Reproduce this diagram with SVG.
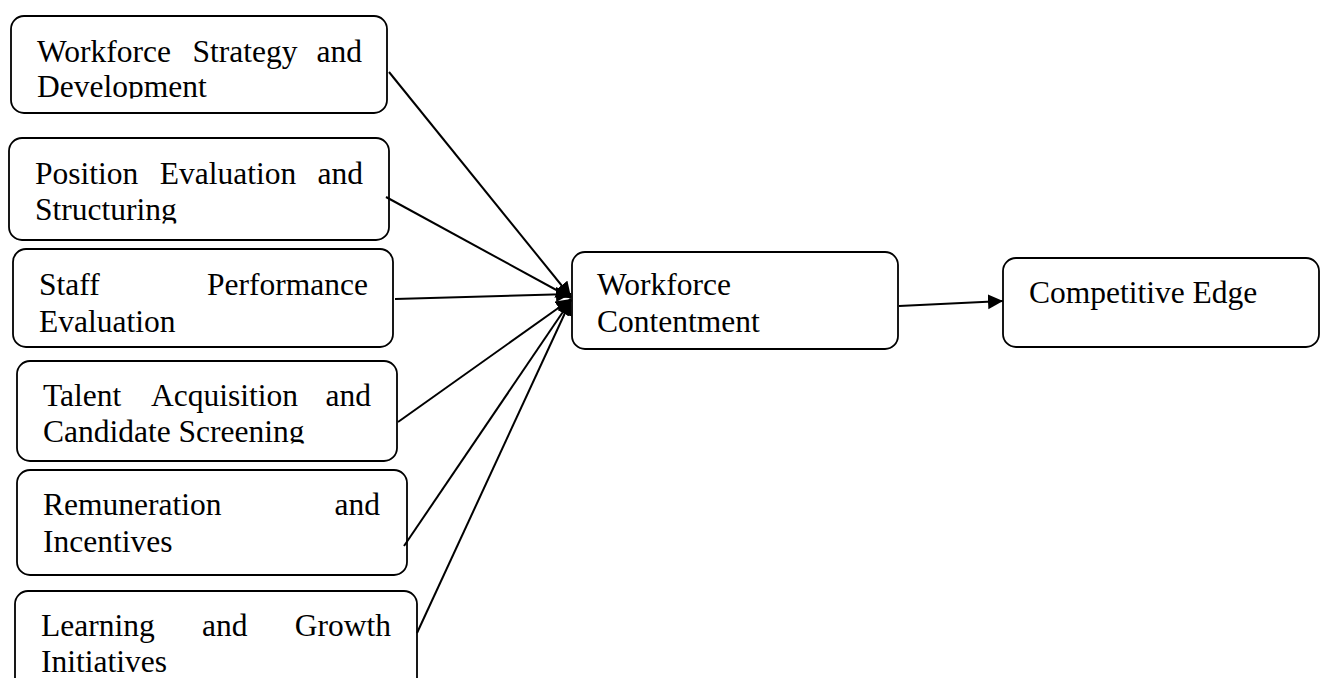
<svg xmlns="http://www.w3.org/2000/svg" width="1325" height="678" viewBox="0 0 1325 678">
<style>
.box{fill:#fff;stroke:#000;stroke-width:1.8}
.t{font-family:"Liberation Serif","Times New Roman",serif;font-size:31.5px;fill:#000}
.m{text-anchor:middle}
.e{text-anchor:end}
.c{fill:none;stroke:#000;stroke-width:2}
</style>
<defs>
<marker id="ah" markerUnits="userSpaceOnUse" markerWidth="18" markerHeight="16" refX="15" refY="7.5" orient="auto">
<path d="M0,0 L15,7.5 L0,15 z" fill="#000"/>
</marker>
<clipPath id="c1"><rect x="0" y="0" width="420" height="98.5"/></clipPath>
<clipPath id="c2"><rect x="0" y="120" width="420" height="103.5"/></clipPath>
<clipPath id="c4"><rect x="0" y="350" width="420" height="93.5"/></clipPath>
</defs>
<g id="n1">
<rect class="box" x="11" y="16" width="376" height="97" rx="13"/>
<g clip-path="url(#c1)">
<text class="t" x="37" y="62">Workforce</text>
<text class="t m" x="245" y="62">Strategy</text>
<text class="t e" x="362" y="62">and</text>
<text class="t" x="37" y="97">Development</text>
</g>
</g>
<g id="n2">
<rect class="box" x="9" y="138" width="380" height="102" rx="13"/>
<g clip-path="url(#c2)">
<text class="t" x="35" y="184">Position</text>
<text class="t m" x="228" y="184">Evaluation</text>
<text class="t e" x="363" y="184">and</text>
<text class="t" x="35" y="220">Structuring</text>
</g>
</g>
<g id="n3">
<rect class="box" x="13" y="249" width="380" height="98" rx="13"/>
<text class="t" x="39" y="295">Staff</text>
<text class="t e" x="368" y="295">Performance</text>
<text class="t" x="39" y="332">Evaluation</text>
</g>
<g id="n4">
<rect class="box" x="17" y="361" width="380" height="100" rx="13"/>
<g clip-path="url(#c4)">
<text class="t" x="43" y="406">Talent</text>
<text class="t m" x="224.5" y="406">Acquisition</text>
<text class="t e" x="371" y="406">and</text>
<text class="t" x="43" y="442">Candidate Screening</text>
</g>
</g>
<g id="n5">
<rect class="box" x="17" y="470" width="390" height="105" rx="13"/>
<text class="t" x="43" y="515">Remuneration</text>
<text class="t e" x="380" y="515">and</text>
<text class="t" x="43" y="552">Incentives</text>
</g>
<g id="n6">
<rect class="box" x="15" y="591" width="402" height="120" rx="13"/>
<text class="t" x="41" y="636">Learning</text>
<text class="t m" x="224.7" y="636">and</text>
<text class="t e" x="391" y="636">Growth</text>
<text class="t" x="41" y="672">Initiatives</text>
</g>
<g id="n7">
<rect class="box" x="572" y="252" width="326" height="97" rx="13"/>
<text class="t" x="597" y="295">Workforce</text>
<text class="t" x="597" y="332">Contentment</text>
</g>
<g id="n8">
<rect class="box" x="1003" y="258" width="316" height="89" rx="13"/>
<text class="t" x="1029" y="303">Competitive Edge</text>
</g>
<g id="connectors">
<line class="c" x1="389" y1="72" x2="571" y2="297" marker-end="url(#ah)"/>
<line class="c" x1="386" y1="197" x2="571" y2="298" marker-end="url(#ah)"/>
<line class="c" x1="395" y1="299" x2="571" y2="294" marker-end="url(#ah)"/>
<line class="c" x1="398" y1="422" x2="571" y2="299" marker-end="url(#ah)"/>
<line class="c" x1="404" y1="546" x2="571" y2="300" marker-end="url(#ah)"/>
<line class="c" x1="417" y1="633" x2="571" y2="300" marker-end="url(#ah)"/>
<line class="c" x1="899" y1="306" x2="1003" y2="301" marker-end="url(#ah)"/>
</g>
</svg>
